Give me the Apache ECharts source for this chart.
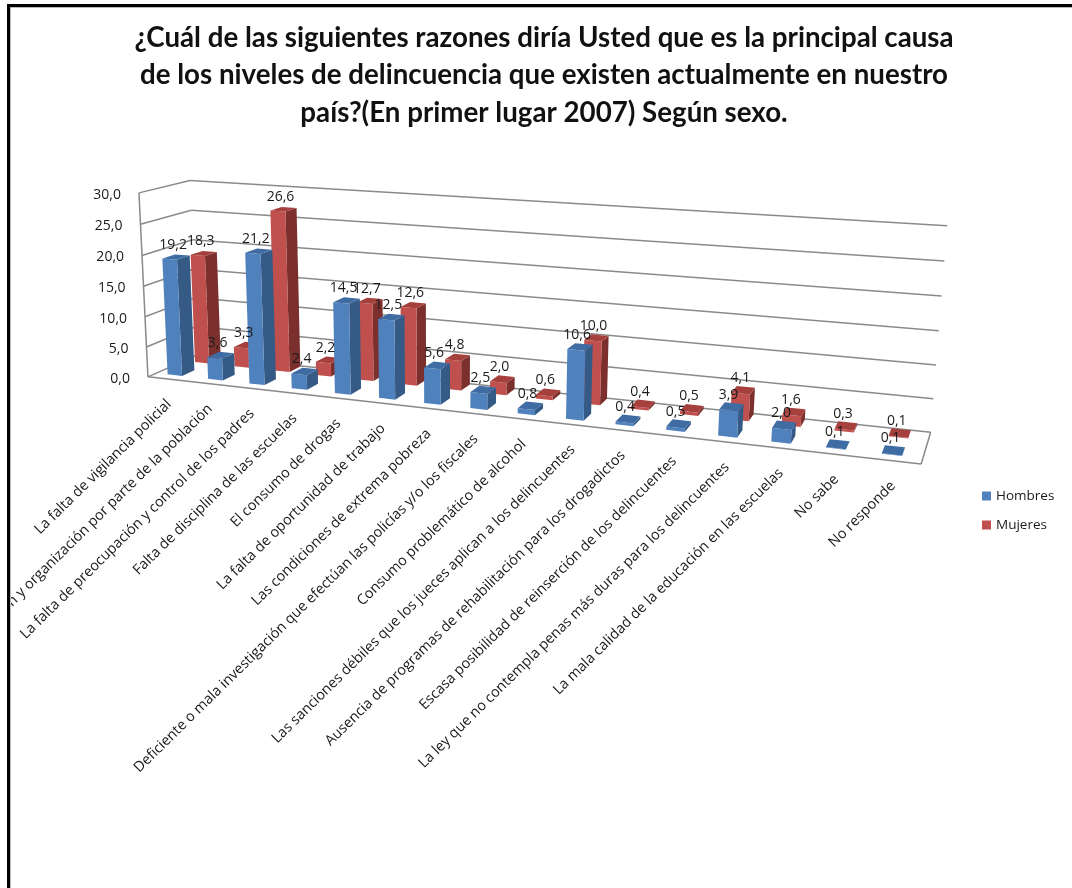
<!DOCTYPE html>
<html>
<head>
<meta charset="utf-8">
<script src="https://cdn.jsdelivr.net/npm/echarts@6/dist/echarts.min.js"></script>
<style>html,body{margin:0;padding:0;background:#fff}#c{width:1072px;height:888px}</style>
</head>
<body>
<div id="c"></div>
<script>
const categories = [
  'La falta de vigilancia policial',
  'ón y organización por parte de la población',
  'La falta de preocupación y control de los padres',
  'Falta de disciplina de las escuelas',
  'El consumo de drogas',
  'La falta de oportunidad de trabajo',
  'Las condiciones de extrema pobreza',
  'Deficiente o mala investigación que efectúan las policías y/o los fiscales',
  'Consumo problemático de alcohol',
  'Las sanciones débiles que los jueces aplican a los delincuentes',
  'Ausencia de programas de rehabilitación para los drogadictos',
  'Escasa posibilidad de reinserción de los delincuentes',
  'La ley que no contempla penas más duras para los delincuentes',
  'La mala calidad de la educación en las escuelas',
  'No sabe',
  'No responde'
];
const hombres = [19.2, 3.6, 21.2, 2.4, 14.5, 12.5, 5.6, 2.5, 0.8, 10.6, 0.4, 0.5, 3.9, 2.0, 0.1, 0.1];
const mujeres = [18.3, 3.3, 26.6, 2.2, 12.7, 12.6, 4.8, 2.0, 0.6, 10.0, 0.4, 0.5, 4.1, 1.6, 0.3, 0.1];
const yTicks = [0, 5, 10, 15, 20, 25, 30];
const titleText = '¿Cuál de las siguientes razones diría Usted que es la principal causa\nde los niveles de delincuencia que existen actualmente en nuestro\npaís?(En primer lugar 2007) Según sexo.';

// Camera: where the corners of the 3D chart box land on the page ([u, depth, height] -> [px, py]).
const boxCorners = [
  [[0,0,0],[150,375]], [[1,0,0],[921,466]], [[1,1,0],[931,430]], [[0,1,0],[195,357]],
  [[0,0,1],[137,193]], [[0,1,1],[192,180]], [[1,1,1],[947,226]]
];

function solve(A, b) {
  const n = b.length, M = A.map((r, i) => r.concat(b[i]));
  for (let c = 0; c < n; c++) {
    let p = c;
    for (let r = c + 1; r < n; r++) if (Math.abs(M[r][c]) > Math.abs(M[p][c])) p = r;
    [M[c], M[p]] = [M[p], M[c]];
    for (let r = 0; r < n; r++) {
      if (r === c) continue;
      const f = M[r][c] / M[c][c];
      for (let k = c; k <= n; k++) M[r][k] -= f * M[c][k];
    }
  }
  return M.map((r, i) => r[n] / r[i]);
}
const cam = (function () {
  const rows = [], rhs = [];
  boxCorners.forEach(([[u, d, y], [px, py]]) => {
    const X = px / 1000, Y = py / 1000;
    rows.push([u, d, y, 1, 0, 0, 0, 0, -X * u, -X * d, -X * y]); rhs.push(X);
    rows.push([0, 0, 0, 0, u, d, y, 1, -Y * u, -Y * d, -Y * y]); rhs.push(Y);
  });
  const n = 11, N = [], v = [];
  for (let i = 0; i < n; i++) {
    N.push([]); let s = 0;
    for (let j = 0; j < n; j++) {
      let t = 0;
      rows.forEach(r => { t += r[i] * r[j]; });
      N[i].push(t);
    }
    rows.forEach((r, k) => { s += r[i] * rhs[k]; });
    v.push(s);
  }
  return solve(N, v);
})();
function project(u, d, y) {
  const w = cam[8] * u + cam[9] * d + cam[10] * y + 1;
  return [1000 * (cam[0] * u + cam[1] * d + cam[2] * y + cam[3]) / w,
          1000 * (cam[4] * u + cam[5] * d + cam[6] * y + cam[7]) / w];
}
// Read the library's scales and turn the flat grid position into box coordinates.
function boxCoord(api, params, cat, val, offset) {
  const s = params.coordSys, p = api.coord([cat, val]), cw = api.size([1, 0])[0];
  return { u: (p[0] + offset * cw - s.x) / s.width, y: (s.y + s.height - p[1]) / s.height };
}

const BAR_HALF = 0.18, DEPTH_HALF = 0.125, BAR_SHIFT = -0.04;
const faces = {
  Hombres: { front: '#4F81BD', side: '#355A86', top: '#3F6CA3', d: 0.29 },
  Mujeres: { front: '#C0504D', side: '#7B302E', top: '#A5403D', d: 0.85 }
};
const GRID_COLOR = '#8A8A8A', TEXT = '#1a1a1a';
const fmt = v => v.toFixed(1).replace('.', ',');

function barSeries(name, values, z) {
  const f = faces[name];
  return {
    name, type: 'custom', z, silent: true, clip: false,
    itemStyle: { color: f.front },
    encode: { x: 0, y: 1 },
    data: values.map((v, i) => [i, v]),
    renderItem(params, api) {
      const cat = api.value(0), val = api.value(1);
      const a = boxCoord(api, params, cat, 0, BAR_SHIFT - BAR_HALF), b = boxCoord(api, params, cat, val, BAR_SHIFT + BAR_HALF);
      const d0 = f.d - DEPTH_HALF, d1 = f.d + DEPTH_HALF;
      const P = (u, d, y) => project(u, d, y);
      const poly = (pts, color) => ({ type: 'polygon', shape: { points: pts }, style: { fill: color } });
      return { type: 'group', children: [
        poly([P(b.u, d0, 0), P(b.u, d1, 0), P(b.u, d1, b.y), P(b.u, d0, b.y)], f.side),
        poly([P(a.u, d0, 0), P(b.u, d0, 0), P(b.u, d0, b.y), P(a.u, d0, b.y)], f.front),
        poly([P(a.u, d0, b.y), P(b.u, d0, b.y), P(b.u, d1, b.y), P(a.u, d1, b.y)], f.top)
      ] };
    }
  };
}
function valueLabels(name, values, z) {
  const f = faces[name];
  return {
    name: name + ' etiquetas', type: 'custom', z, silent: true, clip: false,
    encode: { x: 0, y: 1 },
    data: values.map((v, i) => [i, v]),
    renderItem(params, api) {
      const c = boxCoord(api, params, api.value(0), api.value(1), BAR_SHIFT);
      const p = project(c.u, f.d, c.y);
      return { type: 'text', x: p[0] - 3, y: p[1] - 12, style: {
        text: fmt(api.value(1)), align: 'center', verticalAlign: 'middle',
        font: '14px "Open Sans"', fill: TEXT } };
    }
  };
}
const boxLines = {
  name: 'rejilla', type: 'custom', z: 1, silent: true, clip: false,
  encode: { x: 0, y: 1 },
  data: yTicks.map(t => [0, t]),
  renderItem(params, api) {
    const c = boxCoord(api, params, 0, api.value(1), -0.5);
    const line = (p, q) => ({ type: 'line', shape: { x1: p[0], y1: p[1], x2: q[0], y2: q[1] },
      style: { stroke: GRID_COLOR, lineWidth: 1.5 } });
    const F = project(0, 0, c.y), B = project(0, 1, c.y), R = project(1, 1, c.y);
    const kids = [line(F, B), line(B, R)];
    if (api.value(1) === 0) {
      kids.push(line(project(0, 0, 0), project(0, 0, 1)));
      kids.push(line(project(0, 0, 0), project(1, 0, 0)));
      kids.push(line(project(1, 0, 0), project(1, 1, 0)));
    }
    kids.push({ type: 'text', x: F[0] - 18, y: F[1] + 2, style: {
      text: fmt(api.value(1)), align: 'right', verticalAlign: 'middle',
      font: '14px "Open Sans"', fill: TEXT } });
    return { type: 'group', children: kids };
  }
};
const catLabels = {
  name: 'categorias', type: 'custom', z: 2, silent: true, clip: false,
  encode: { x: 0, y: 1 },
  data: categories.map((c, i) => [i, 0]),
  renderItem(params, api) {
    const i = api.value(0), c = boxCoord(api, params, i, 0, 0), p = project(c.u, 0, 0);
    return { type: 'text', x: p[0] + 1, y: p[1] + 23, rotation: Math.PI * 44.5 / 180, style: {
      text: categories[i], align: 'right', verticalAlign: 'middle',
      font: '14.4px "Open Sans"', fill: TEXT } };
  }
};

const chart = echarts.init(document.getElementById('c'), null, { renderer: 'canvas' });
chart.setOption({
  animation: false,
  backgroundColor: '#fff',
  title: { text: titleText, left: 539, top: 14, textAlign: 'center',
    textStyle: { fontFamily: 'Lato', fontWeight: 'bold', fontSize: 27.7, lineHeight: 37.5, color: '#111' } },
  legend: { data: ['Hombres', 'Mujeres'], orient: 'vertical', left: 977, top: 484, icon: 'rect',
    itemWidth: 9, itemHeight: 9, itemGap: 15, selectedMode: false,
    textStyle: { fontFamily: 'Open Sans', fontSize: 13.5, color: TEXT } },
  grid: { left: 150, right: 150, top: 193, bottom: 513 },
  xAxis: { type: 'category', data: categories, show: false },
  yAxis: { type: 'value', min: 0, max: 30, interval: 5, show: false },
  graphic: [
    { type: 'rect', z: 100, shape: { x: 0, y: 0, width: 7, height: 888 }, style: { fill: '#fff' } },
    { type: 'rect', z: 101, shape: { x: 7, y: 4, width: 3, height: 884 }, style: { fill: '#000' } },
    { type: 'rect', z: 101, shape: { x: 7, y: 4, width: 1065, height: 3 }, style: { fill: '#000' } },
    { type: 'rect', z: 101, shape: { x: 10, y: 7, width: 1062, height: 1 }, style: { fill: '#bbb' } },
    { type: 'rect', z: 101, shape: { x: 10, y: 7, width: 1, height: 881 }, style: { fill: '#bbb' } }
  ],
  series: [
    boxLines, catLabels,
    barSeries('Mujeres', mujeres, 3),
    barSeries('Hombres', hombres, 4),
    valueLabels('Mujeres', mujeres, 5),
    valueLabels('Hombres', hombres, 6)
  ]
});
</script>
</body>
</html>
